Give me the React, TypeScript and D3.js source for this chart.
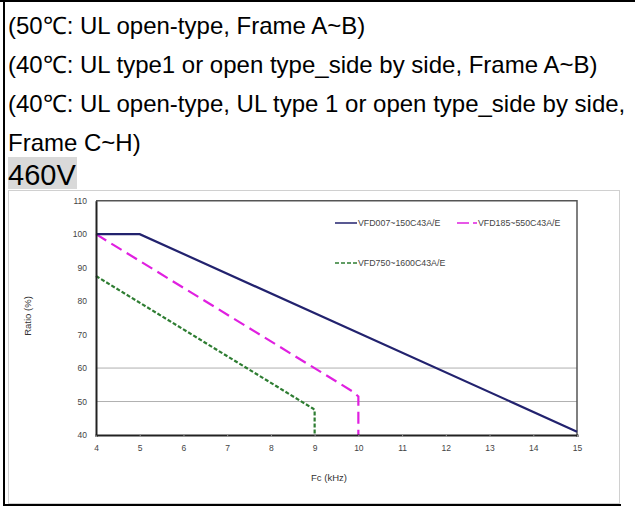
import * as d3 from 'd3'
import React, { useEffect, useRef } from 'react'

// header text above the chart
const headerLines = [
  '(50℃: UL open-type, Frame A~B)',
  '(40℃: UL type1 or open type_side by side, Frame A~B)',
  '(40℃: UL open-type, UL type 1 or open type_side by side,',
  'Frame C~H)'
]
const voltageLabel = '460V'

const xTicks = [4, 5, 6, 7, 8, 9, 10, 11, 12, 13, 14, 15]
const yTicks = [40, 50, 60, 70, 80, 90, 100, 110]
const gridValues = [50, 60]

const seriesNames = ['VFD007~150C43A/E', 'VFD185~550C43A/E', 'VFD750~1600C43A/E']
const series1 = [[4, 100], [5, 100], [15, 41]]
const series2 = [[4, 100], [9.87, 53], [10, 51.5], [10, 40]]
const series3 = [[4, 87.5], [8.95, 48], [9, 47.5], [9, 40]]

const App = () => {
  const svgRef = useRef(null)

  const width = 635
  const height = 513
  const plot = { left: 96, right: 577, top: 200.7, bottom: 435 }

  useEffect(() => {
    if (!svgRef.current) return
    const svg = d3.select(svgRef.current)
    svg.selectAll('*').remove()

    svg.append('rect').attr('width', width).attr('height', height).attr('fill', '#ffffff')

    // outer table borders
    svg.append('line').attr('x1', 0).attr('x2', width).attr('y1', 1).attr('y2', 1)
      .attr('stroke', '#000').attr('stroke-width', 2)
    svg.append('line').attr('x1', 4).attr('x2', 4).attr('y1', 0).attr('y2', 506)
      .attr('stroke', '#000').attr('stroke-width', 2)
    svg.append('line').attr('x1', 3).attr('x2', 621).attr('y1', 505).attr('y2', 505)
      .attr('stroke', '#000').attr('stroke-width', 2)

    // header lines
    headerLines.forEach((t, i) => {
      svg.append('text')
        .attr('x', 8)
        .attr('y', 34 + i * 39)
        .style('font-family', '"Liberation Sans", Arial, sans-serif')
        .style('font-size', '24px')
        .style('fill', '#000')
        .text(t)
    })

    svg.append('rect').attr('x', 8).attr('y', 157).attr('width', 69).attr('height', 32)
      .attr('fill', '#d9d9d9')
    svg.append('text')
      .attr('x', 8)
      .attr('y', 185)
      .style('font-family', '"Liberation Sans", Arial, sans-serif')
      .style('font-size', '29px')
      .style('fill', '#000')
      .text(voltageLabel)

    // chart image frame
    svg.append('rect').attr('x', 8.5).attr('y', 190.5).attr('width', 611).attr('height', 313)
      .attr('fill', '#fff').attr('stroke', '#d0d0d0').attr('stroke-width', 1)

    const x = d3.scaleLinear().domain([4, 15]).range([plot.left, plot.right])
    const y = d3.scaleLinear().domain([40, 110]).range([plot.bottom, plot.top])

    // grid lines
    svg.append('g')
      .selectAll('line')
      .data(gridValues)
      .enter()
      .append('line')
      .attr('x1', plot.left)
      .attr('x2', plot.right)
      .attr('y1', (d) => y(d))
      .attr('y2', (d) => y(d))
      .attr('stroke', '#b0b0b0')
      .attr('stroke-width', 1)

    // plot frame (top / right)
    svg.append('path')
      .attr('d', `M${plot.left},${y(110)}H${x(15)}V${plot.bottom}`)
      .attr('fill', 'none')
      .attr('stroke', '#555')
      .attr('stroke-width', 1.5)

    const line = d3.line().x((d) => x(d[0])).y((d) => y(d[1]))

    svg.append('path').datum(series3).attr('d', line).attr('fill', 'none')
      .attr('stroke', '#2e7d32').attr('stroke-width', 2.2).attr('stroke-dasharray', '4,2')
    svg.append('path').datum(series2).attr('d', line).attr('fill', 'none')
      .attr('stroke', '#e020e0').attr('stroke-width', 2.2).attr('stroke-dasharray', '12,6')
    svg.append('path').datum(series1).attr('d', line).attr('fill', 'none')
      .attr('stroke', '#22226e').attr('stroke-width', 2.2)

    // axes
    svg.append('g')
      .attr('transform', `translate(0,${plot.bottom})`)
      .call(d3.axisBottom(x).tickValues(xTicks).tickSize(2).tickPadding(8))
      .call((g) => g.select('.domain').attr('stroke', '#222').attr('stroke-width', 2))
      .call((g) => g.selectAll('.tick line').attr('stroke', '#999'))
      .call((g) => g.selectAll('.tick text')
        .attr('font-size', 8.5).attr('fill', '#444')
        .attr('font-family', '"Liberation Sans", Arial, sans-serif'))

    svg.append('g')
      .attr('transform', `translate(${plot.left},0)`)
      .call(d3.axisLeft(y).tickValues(yTicks).tickSize(0).tickPadding(9))
      .call((g) => g.select('.domain').attr('stroke', '#222').attr('stroke-width', 2))
      .call((g) => g.selectAll('.tick text')
        .attr('font-size', 8.5).attr('fill', '#444')
        .attr('font-family', '"Liberation Sans", Arial, sans-serif'))

    // axis titles
    svg.append('text')
      .attr('transform', `translate(31,316) rotate(-90)`)
      .attr('text-anchor', 'middle')
      .style('font-family', '"Liberation Sans", Arial, sans-serif')
      .style('font-size', '9.5px')
      .style('fill', '#333')
      .text('Ratio (%)')

    svg.append('text')
      .attr('x', 329)
      .attr('y', 481)
      .attr('text-anchor', 'middle')
      .style('font-family', '"Liberation Sans", Arial, sans-serif')
      .style('font-size', '9.5px')
      .style('fill', '#333')
      .text('Fc (kHz)')

    // legend
    const legend = [
      { name: seriesNames[0], color: '#22226e', dash: null, lx: 335, ly: 223, w: 22 },
      { name: seriesNames[1], color: '#e020e0', dash: '12,4', lx: 457, ly: 223, w: 20 },
      { name: seriesNames[2], color: '#2e7d32', dash: '4,2', lx: 335, ly: 263, w: 22 }
    ]
    legend.forEach((l) => {
      svg.append('line')
        .attr('x1', l.lx).attr('x2', l.lx + l.w).attr('y1', l.ly).attr('y2', l.ly)
        .attr('stroke', l.color).attr('stroke-width', 1.5)
        .attr('stroke-dasharray', l.dash)
      svg.append('text')
        .attr('x', l.lx + l.w + 1)
        .attr('y', l.ly + 3)
        .style('font-family', '"Liberation Sans", Arial, sans-serif')
        .style('font-size', '8.8px')
        .style('fill', '#444')
        .text(l.name)
    })
  }, [])

  return (
    <div style={ { position: 'absolute', left: 0, top: 0, width, height, background: '#fff' } }>
      <svg ref={ svgRef } width={ width } height={ height } style={ { display: 'block' } }></svg>
    </div>
  )
}

export default App
